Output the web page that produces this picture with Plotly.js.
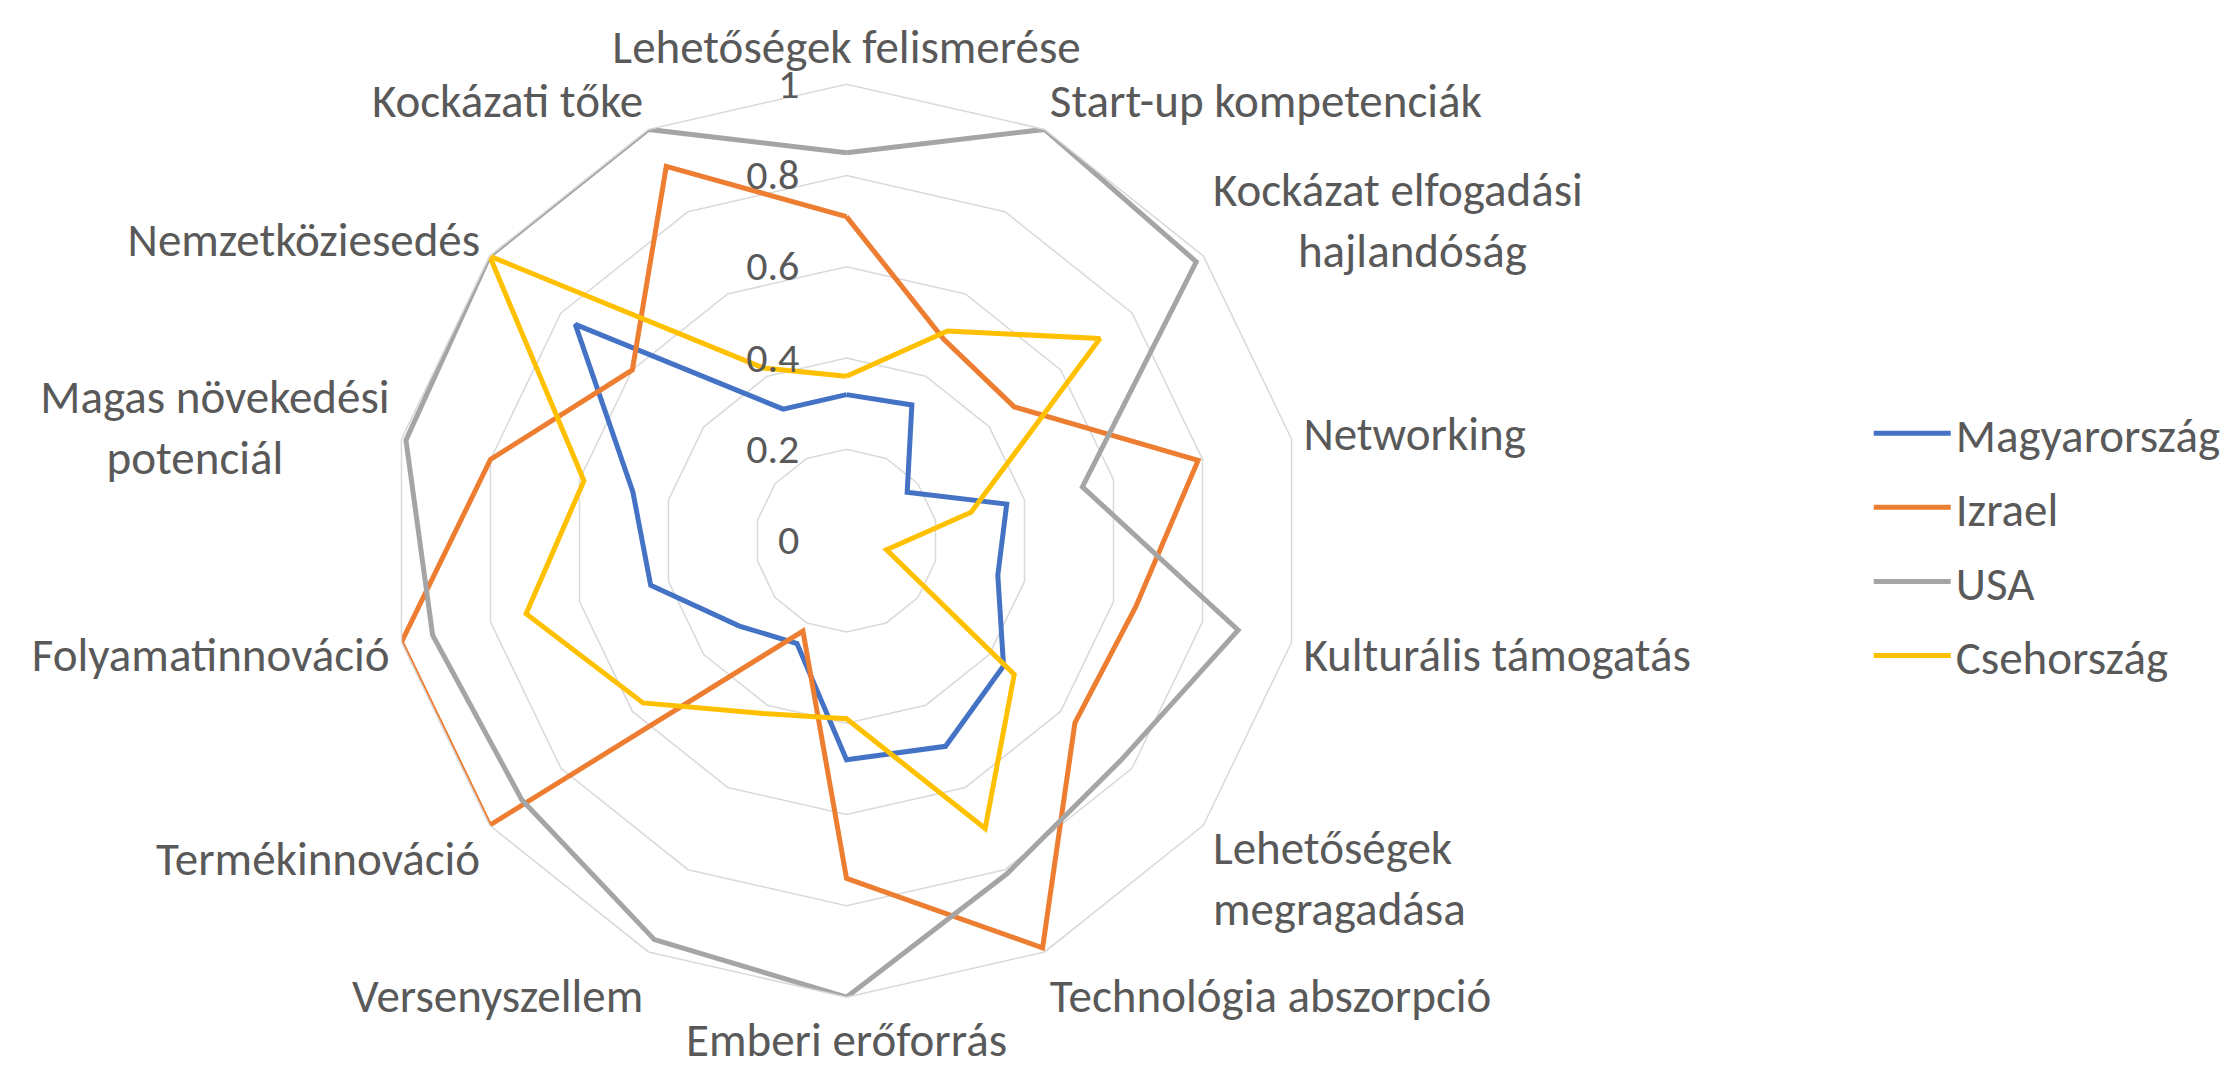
<!DOCTYPE html>
<html>
<head>
<meta charset="utf-8">
<script src="https://cdn.plot.ly/plotly-3.0.1.min.js"></script>
<style>html,body{margin:0;padding:0;background:#fff;}</style>
</head>
<body>
<div id="chart" style="width:2230px;height:1068px;"></div>
<script>
const categories = [
  'Lehetőségek felismerése', 'Start-up kompetenciák', 'Kockázat elfogadási hajlandóság',
  'Networking', 'Kulturális támogatás', 'Lehetőségek megragadása', 'Technológia abszorpció',
  'Emberi erőforrás', 'Versenyszellem', 'Termékinnováció', 'Folyamatinnováció',
  'Magas növekedési potenciál', 'Nemzetköziesedés', 'Kockázati tőke'
];
// two-line labels are centred with non-breaking spaces, as in the original
const NB = n => '\u00a0'.repeat(n);
const tickLabels = [
  'Lehetőségek felismerése', 'Start-up kompetenciák', 'Kockázat elfogadási<br>' + NB(8) + 'hajlandóság',
  'Networking', 'Kulturális támogatás', 'Lehetőségek<br>megragadása', 'Technológia abszorpció',
  'Emberi erőforrás', 'Versenyszellem', 'Termékinnováció', 'Folyamatinnováció',
  'Magas növekedési<br>potenciál' + NB(10), 'Nemzetköziesedés', 'Kockázati tőke'
];
const seriesNames = ['Magyarország', 'Izrael', 'USA', 'Csehország'];
const magyarorszag = [0.32, 0.33, 0.17, 0.36, 0.34, 0.44, 0.50, 0.48, 0.25, 0.30, 0.44, 0.48, 0.76, 0.32];
const izrael       = [0.71, 0.49, 0.47, 0.79, 0.65, 0.64, 0.99, 0.74, 0.22, 1.00, 1.00, 0.80, 0.60, 0.91];
const usa          = [0.85, 1.00, 0.98, 0.53, 0.88, 0.77, 0.81, 1.00, 0.97, 0.91, 0.93, 0.99, 1.00, 1.00];
const csehorszag   = [0.36, 0.51, 0.71, 0.28, 0.09, 0.47, 0.70, 0.39, 0.42, 0.57, 0.72, 0.59, 1.00, 0.42];
const radialTicks = [0, 0.2, 0.4, 0.6, 0.8, 1];

const colors = ['#4472C4', '#ED7D31', '#A5A5A5', '#FFC000'];
const allSeries = [magyarorszag, izrael, usa, csehorszag];
const FONT = 'Carlito, Calibri, Lato, "Open Sans", sans-serif';
const TXT = '#595959';

const close = a => a.concat([a[0]]);

const traces = allSeries.map((vals, i) => ({
  type: 'scatterpolar',
  mode: 'lines',
  name: seriesNames[i],
  legendgroup: 'g' + i,
  r: close(vals),
  theta: close(categories),
  line: {color: colors[i], width: 5, shape: 'linear'},
  hoverinfo: 'skip'
}));

const layout = {
  width: 2230,
  height: 1068,
  margin: {l: 0, r: 0, t: 0, b: 0},
  paper_bgcolor: '#ffffff',
  font: {family: FONT, color: TXT, size: 47},
  showlegend: true,
  legend: {
    x: 0.838, xanchor: 'left',
    y: 0.49, yanchor: 'middle',
    font: {family: FONT, color: TXT, size: 47},
    traceorder: 'grouped',
    tracegroupgap: 10,
    itemwidth: 77,
    bgcolor: 'rgba(0,0,0,0)'
  },
  polar: {
    domain: {x: [0.1749, 0.5843], y: [0.0663, 0.9212]},
    bgcolor: '#ffffff',
    gridshape: 'linear',
    angularaxis: {
      type: 'category',
      categoryorder: 'array',
      categoryarray: categories,
      tickvals: categories,
      ticktext: tickLabels,
      direction: 'clockwise',
      rotation: 90,
      showgrid: false,
      showline: true,
      linecolor: '#d9d9d9',
      linewidth: 1.5,
      ticks: 'outside',
      ticklen: 2,
      tickcolor: 'rgba(0,0,0,0)',
      tickfont: {family: FONT, color: TXT, size: 47}
    },
    radialaxis: {
      range: [0, 1],
      tickvals: radialTicks,
      angle: 90,
      tickangle: 90,
      side: 'counterclockwise',
      showline: false,
      gridcolor: '#d9d9d9',
      gridwidth: 1.5,
      ticks: 'outside',
      ticklen: 32,
      tickcolor: 'rgba(0,0,0,0)',
      tickfont: {family: FONT, color: TXT, size: 42}
    }
  }
};

Plotly.newPlot('chart', traces, layout, {displayModeBar: false, staticPlot: true});
</script>
</body>
</html>
